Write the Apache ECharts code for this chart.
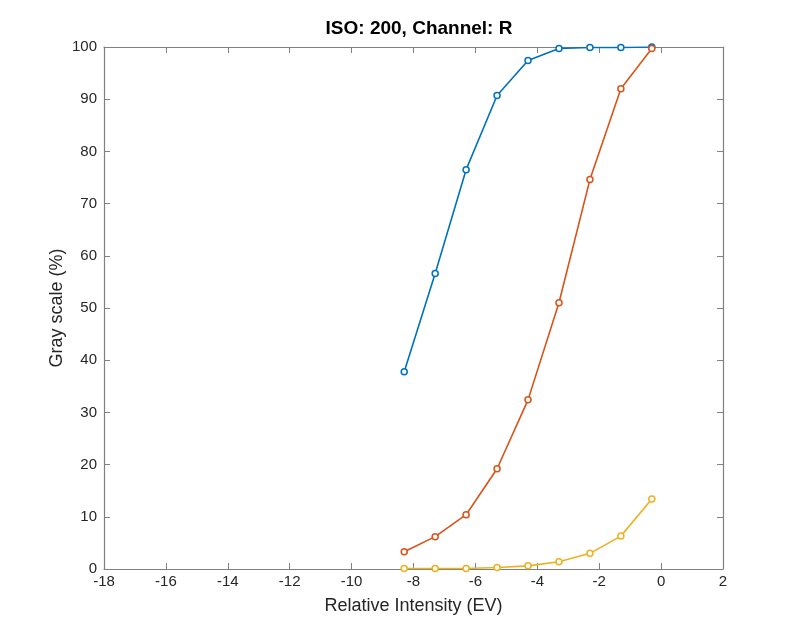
<!DOCTYPE html>
<html>
<head>
<meta charset="utf-8">
<script src="https://cdn.jsdelivr.net/npm/echarts@6/dist/echarts.min.js"></script>
<style>
  html, body { margin: 0; padding: 0; background: #fff; }
  #chart { width: 800px; height: 640px; }
</style>
</head>
<body>
<div id="chart"></div>
<script>
var evValues = [-8.3, -7.3, -6.3, -5.3, -4.3, -3.3, -2.3, -1.3, -0.3];
var blueValues = [37.8, 56.6, 76.5, 90.7, 97.4, 99.7, 99.9, 99.9, 100];
var orangeValues = [3.3, 6.2, 10.4, 19.2, 32.4, 51.0, 74.6, 92.0, 99.7];
var yellowValues = [0.1, 0.1, 0.1, 0.3, 0.6, 1.4, 3.0, 6.3, 13.4];

function pairs(ys) {
  return evValues.map(function (x, i) { return [x, ys[i]]; });
}

var axisGray = "#808080";
var textDark = "#262626";
var font = "Liberation Sans";

var chart = echarts.init(document.getElementById("chart"));

function makeSeries(ys, color) {
  return {
    type: "line",
    data: pairs(ys),
    symbol: "circle",
    symbolSize: 6,
    showAllSymbol: true,
    itemStyle: { color: "#fff", borderColor: color, borderWidth: 1.5 },
    lineStyle: { color: color, width: 1.6 },
    emphasis: { disabled: true },
    animation: false
  };
}

chart.setOption({
  animation: false,
  title: {
    text: "ISO: 200, Channel: R",
    left: 414,
    top: 14,
    textAlign: "center",
    textStyle: { fontFamily: font, fontSize: 19, fontWeight: "bold", color: "#000" }
  },
  grid: { left: 104, right: 77, top: 47, bottom: 71 },
  xAxis: [
    {
      type: "value",
      min: -18,
      max: 2,
      interval: 2,
      name: "Relative Intensity (EV)",
      nameLocation: "middle",
      nameGap: 28,
      nameTextStyle: { fontFamily: font, fontSize: 18, color: textDark },
      axisLine: { onZero: false, lineStyle: { color: axisGray, width: 1.2 } },
      axisTick: { inside: true, length: 6, lineStyle: { color: axisGray } },
      axisLabel: { fontFamily: font, fontSize: 15, color: textDark, margin: 5 },
      splitLine: { show: false }
    },
    {
      type: "value",
      position: "top",
      min: -18,
      max: 2,
      interval: 2,
      axisLine: { show: true, onZero: false, lineStyle: { color: axisGray, width: 1.2 } },
      axisTick: { inside: true, length: 6, lineStyle: { color: axisGray } },
      axisLabel: { show: false },
      splitLine: { show: false }
    }
  ],
  yAxis: [
    {
      type: "value",
      min: 0,
      max: 100,
      interval: 10,
      name: "Gray scale (%)",
      nameLocation: "middle",
      nameGap: 38,
      nameMoveOverlap: false,
      nameTextStyle: { fontFamily: font, fontSize: 18, color: textDark },
      axisLine: { show: true, onZero: false, lineStyle: { color: axisGray, width: 1.2 } },
      axisTick: { show: true, inside: true, length: 6, lineStyle: { color: axisGray } },
      axisLabel: { fontFamily: font, fontSize: 15, color: textDark, margin: 7 },
      splitLine: { show: false }
    },
    {
      type: "value",
      position: "right",
      min: 0,
      max: 100,
      interval: 10,
      axisLine: { show: true, onZero: false, lineStyle: { color: axisGray, width: 1.2 } },
      axisTick: { show: true, inside: true, length: 6, lineStyle: { color: axisGray } },
      axisLabel: { show: false },
      splitLine: { show: false }
    }
  ],
  series: [
    makeSeries(blueValues, "#0072BD"),
    makeSeries(orangeValues, "#D95319"),
    makeSeries(yellowValues, "#EDB120")
  ]
});
</script>
</body>
</html>
